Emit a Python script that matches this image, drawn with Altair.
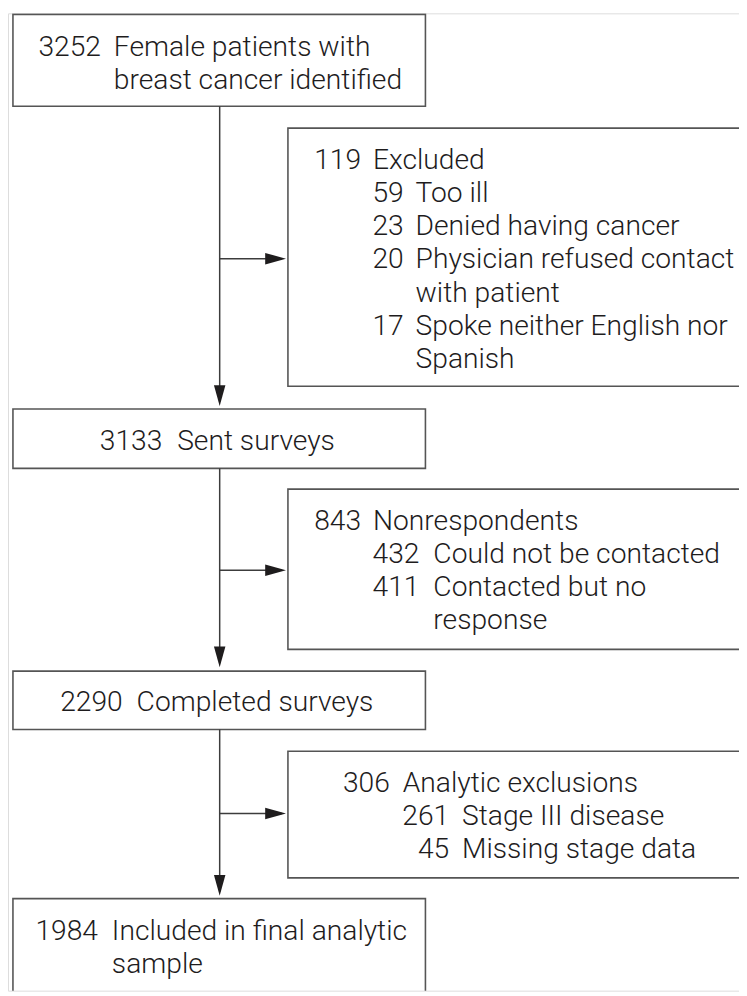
import altair as alt
import pandas as pd

# ---------------- content ----------------
main_counts = ["3252", "3133", "2290", "1984"]
main_labels = [
    ["Female patients with", "breast cancer identified"],
    ["Sent surveys"],
    ["Completed surveys"],
    ["Included in final analytic", "sample"],
]
excl_counts = ["119", "843", "306"]
excl_labels = ["Excluded", "Nonrespondents", "Analytic exclusions"]
sub_counts = [["59", "23", "20", "17"], ["432", "411"], ["261", "45"]]
sub_labels = [
    [["Too ill"], ["Denied having cancer"], ["Physician refused contact", "with patient"],
     ["Spoke neither English nor", "Spanish"]],
    [["Could not be contacted"], ["Contacted but no", "response"]],
    [["Stage III disease"], ["Missing stage data"]],
]

# ---------------- layout (page pixel coordinates) ----------------
W, H = 739, 988
X0, Y0 = 8, 8
LINE = 33.6
main_boxes = [(13, 430, 9, 102), (13, 430, 408, 468), (13, 430, 673, 732), (13, 430, 903, 1020)]
main_first_base = [51, 449.5, 713.5, 945]
main_cols = [(102, 115), (164, 179), (124, 138), (99, 113)]
excl_boxes = [(291, 780, 124, 385), (291, 780, 489, 651), (291, 780, 754, 882)]
excl_first_base = [165, 530, 795]
excl_cols = [(365, 377), (365, 377), (394, 407)]
sub_cols = [(408, 420), (424, 438), (454, 467)]
trunk_x = 222
trunk_segments = [(102, 405), (468, 669), (732, 900)]
branch_y = [256, 571, 817]
branch_tip_x = 289

nums, labs, rects, rules, downs, rights = [], [], [], [], [], []

for (x1, x2, y1, y2) in main_boxes + excl_boxes:
    rects.append(dict(x=x1, x2=x2, y=y1, y2=y2))

for i, cnt in enumerate(main_counts):
    nr, tl = main_cols[i]
    b = main_first_base[i]
    nums.append(dict(x=nr, y=b, t=cnt))
    for k, line in enumerate(main_labels[i]):
        labs.append(dict(x=tl, y=b + k * LINE, t=line))

for i, cnt in enumerate(excl_counts):
    nr, tl = excl_cols[i]
    b = excl_first_base[i]
    nums.append(dict(x=nr, y=b, t=cnt))
    labs.append(dict(x=tl, y=b, t=excl_labels[i]))
    snr, stl = sub_cols[i]
    k = 1
    for c, lines in zip(sub_counts[i], sub_labels[i]):
        nums.append(dict(x=snr, y=b + k * LINE, t=c))
        for line in lines:
            labs.append(dict(x=stl, y=b + k * LINE, t=line))
            k += 1

for (a, z) in trunk_segments:
    rules.append(dict(x=trunk_x, x2=trunk_x, y=a, y2=z - 4))
    downs.append(dict(x=trunk_x, y=z))
for by in branch_y:
    rules.append(dict(x=trunk_x, x2=branch_tip_x - 4, y=by, y2=by))
    rights.append(dict(x=branch_tip_x, y=by))

xs = alt.Scale(domain=[X0, X0 + W], nice=False, zero=False)
ys = alt.Scale(domain=[Y0, Y0 + H], nice=False, zero=False, reverse=True)
X = lambda f="x": alt.X(f"{f}:Q", scale=xs, axis=None)
Y = lambda f="y": alt.Y(f"{f}:Q", scale=ys, axis=None)

INK = "#1e1c1d"
LINEC = "#3c3c3c"
FONT = "Roboto"
FW = 300
FS = 28.5

box_layer = alt.Chart(pd.DataFrame(rects)).mark_rect(
    fillOpacity=0, stroke="#555555", strokeWidth=1.6, clip=True
).encode(x=X(), x2="x2:Q", y=Y(), y2="y2:Q")

rule_layer = alt.Chart(pd.DataFrame(rules)).mark_rule(
    color=LINEC, strokeWidth=1.5, clip=True
).encode(x=X(), x2="x2:Q", y=Y(), y2="y2:Q")

down_path = "M0,0L-0.58,-2.1L0.58,-2.1Z"
right_path = "M0,0L-2.1,-0.58L-2.1,0.58Z"
down_layer = alt.Chart(pd.DataFrame(downs)).mark_point(
    shape=down_path, size=400, filled=True, color=INK, opacity=1, strokeWidth=0
).encode(x=X(), y=Y())
right_layer = alt.Chart(pd.DataFrame(rights)).mark_point(
    shape=right_path, size=400, filled=True, color=INK, opacity=1, strokeWidth=0
).encode(x=X(), y=Y())

num_layer = alt.Chart(pd.DataFrame(nums)).mark_text(
    align="right", baseline="alphabetic", font=FONT, fontWeight=FW, fontSize=FS, color=INK
).encode(x=X(), y=Y(), text="t:N")
lab_layer = alt.Chart(pd.DataFrame(labs)).mark_text(
    align="left", baseline="alphabetic", font=FONT, fontWeight=FW, fontSize=FS, color=INK
).encode(x=X(), y=Y(), text="t:N")

chart = alt.layer(
    box_layer, rule_layer, down_layer, right_layer, num_layer, lab_layer
).properties(
    width=W, height=H, padding=0, autosize=alt.AutoSizeParams(type="none")
).configure_view(strokeWidth=0).configure(background="white")

chart.save("out.html", embed_options={"renderer": "svg", "actions": False})
